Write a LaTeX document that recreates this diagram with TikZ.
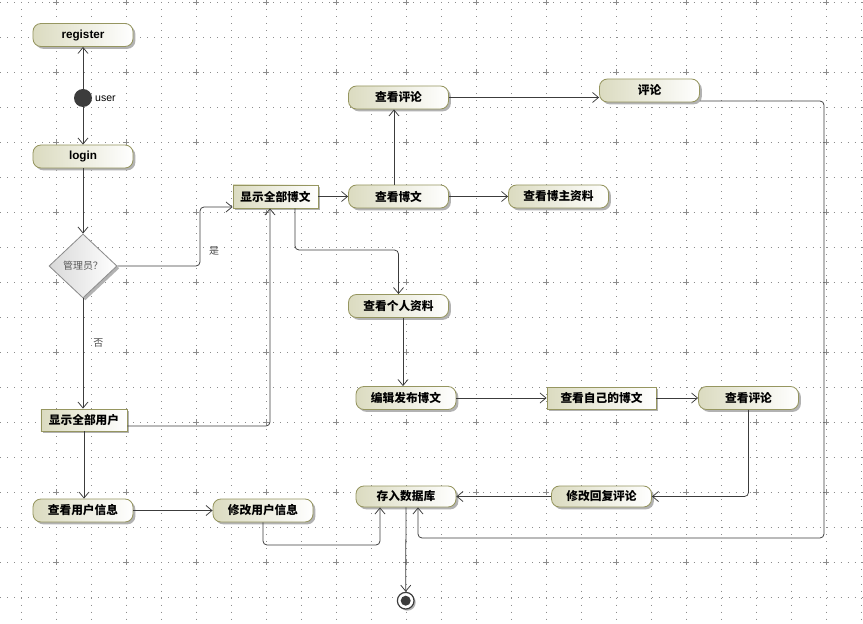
\documentclass[tikz,border=0pt]{standalone}
\usepackage{fontspec}
\setmainfont{Liberation Sans}
\newfontfamily\cjk{Noto Sans CJK SC}
\usepackage{tikz}
\usetikzlibrary{arrows.meta, shapes.geometric, shadows}
\definecolor{actfill}{RGB}{219,219,192}
\definecolor{actedge}{RGB}{150,150,96}
\definecolor{linec}{RGB}{60,60,60}
\definecolor{gridc}{RGB}{140,140,140}

\begin{document}
\begin{tikzpicture}[x=0.03cm, y=-0.03cm,
    griddot/.style={gridc, line width=0.75pt, dash pattern=on 0.75pt off 5.23pt},
    gridplus/.style={gridc, line width=0.7pt},
    act/.style={rounded corners=0.24cm, draw=actedge, line width=0.7pt, left color=actfill, right color=white,
        drop shadow={shadow xshift=0.07cm, shadow yshift=-0.07cm, fill=black!30, opacity=1},
        minimum width=3cm, minimum height=0.69cm, inner sep=0pt,
        font=\cjk\bfseries\fontsize{10pt}{12pt}\selectfont},
    box/.style={act, sharp corners},
    latin/.style={font=\bfseries\fontsize{10pt}{12pt}\selectfont},
    flow/.style={draw=linec, line width=0.65pt, rounded corners=0.12cm,
        -{Straight Barb[length=0.18cm, width=0.3cm]}},
    lbl/.style={font=\cjk\fontsize{8.5pt}{10pt}\selectfont, text=black!70, inner sep=0pt}
]
    \useasboundingbox (0,0) rectangle (863,624);
    \fill[white] (0,0) rectangle (863,624);
    \foreach \gx in {0,...,24}
        \draw[griddot] ({21+35*\gx},2) -- ({21+35*\gx},624);
    \foreach \gy in {0,...,17}
        \draw[griddot] (0,{2+35*\gy}) -- (863,{2+35*\gy});
    \foreach \gx in {1,3,...,23} {
        \foreach \gy in {0,2,...,16} {
            \draw[gridplus] ({18+35*\gx},{2+35*\gy}) -- ++(6,0);
            \draw[gridplus] ({21+35*\gx},{-1+35*\gy}) -- ++(0,6);
        }
    }

    \node[act, latin] (reg) at (83,35) {register};
    \node[circle, fill=linec, minimum size=0.54cm, inner sep=0pt] (init) at (83,98) {};
    \node[anchor=west, font=\fontsize{9pt}{11pt}\selectfont, inner sep=0pt] (user) at (95,99) {user};
    \node[act, latin] (login) at (83,156.5) {login};
    \node[diamond, draw=black!45, line width=0.7pt, left color=black!15, right color=white,
        drop shadow={shadow xshift=0.07cm, shadow yshift=-0.07cm, fill=black!30, opacity=1},
        minimum width=2.04cm, minimum height=1.92cm, inner sep=0pt,
        font=\cjk\fontsize{8.5pt}{10pt}\selectfont, text=black!65] (q) at (83,266) {管理员？};
    \node[box, minimum width=2.58cm, minimum height=0.66cm] (allu) at (84,420) {显示全部用户};
    \node[act] (uinfo) at (83,510.5) {查看用户信息};
    \node[act] (umod) at (263,510.5) {修改用户信息};
    \node[box, minimum width=2.55cm] (allb) at (275.5,196.5) {显示全部博文};
    \node[act] (view) at (398.5,196.5) {查看博文};
    \node[act] (host) at (558.5,196.5) {查看博主资料};
    \node[act] (cmt1) at (398.5,97.5) {查看评论};
    \node[act] (rev) at (649.5,90.5) {评论};
    \node[act] (self) at (398.5,306) {查看个人资料};
    \node[act] (edit) at (406,398) {编辑发布博文};
    \node[box, minimum width=3.27cm, minimum height=0.66cm] (mine) at (601.5,398) {查看自己的博文};
    \node[act] (cmt2) at (748.5,398) {查看评论};
    \node[act, minimum height=0.63cm] (fix) at (601.5,496.5) {修改回复评论};
    \node[act, minimum height=0.63cm] (db) at (406,496.5) {存入数据库};
    \node[circle, draw=linec, line width=1pt, fill=white, minimum size=0.5cm, inner sep=0pt,
        drop shadow={shadow xshift=0.05cm, shadow yshift=-0.05cm, fill=black!30, opacity=1},
        path picture={\fill[linec] (path picture bounding box.center) circle (0.15cm);}] (fin) at (405.7,600.7) {};

    \coordinate (b1) at (200,207);
    \coordinate (c2) at (270,426);
    \coordinate (c3) at (295,250);
    \coordinate (e0) at (394,150);
    \coordinate (e1) at (403,350);
    \coordinate (d0) at (824,101);
    \coordinate (d1) at (824,538);
    \coordinate (d2) at (418,538);
    \coordinate (f1) at (380,545);

    \draw[flow] (init) -- (reg);
    \draw[flow] (init) -- (login);
    \draw[flow] (login) -- (q);
    \draw[flow] (q.east) -| (b1) -- (b1 -| allb.west);
    \node[lbl] (yes) at (214,251) {是};
    \draw[flow] (q.south) -- (q.south |- allu.north) node[lbl, pos=0.405, right=0.3cm] (no) {否};
    \draw[flow] (allu.east |- c2) -- (c2) -- (c2 |- allb.south);
    \draw[flow] (c3 |- allb.south) -- (c3) -| (self.north);
    \draw[flow] (allb) -- (view);
    \draw[flow] (view) -- (host);
    \draw[flow] (e0 |- view.north) -- (e0 |- cmt1.south);
    \draw[flow] (cmt1.east) -- (cmt1.east -| rev.west);
    \draw[flow] (d0 -| rev.east) -- (d0) -- (d1) -- (d2) -- (d2 |- db.south);
    \draw[flow] (e1 |- self.south) -- (e1 |- edit.north);
    \draw[flow] (edit) -- (mine);
    \draw[flow] (mine) -- (cmt2);
    \draw[flow] (cmt2.south) |- (fix.east);
    \draw[flow] (fix) -- (db);
    \draw[flow] (db) -- (fin);
    \draw[flow] (allu.south) -- (allu.south |- uinfo.north);
    \draw[flow] (uinfo) -- (umod);
    \draw[flow] (umod.south) |- (f1) -- (f1 |- db.south);
\end{tikzpicture}
\end{document}
